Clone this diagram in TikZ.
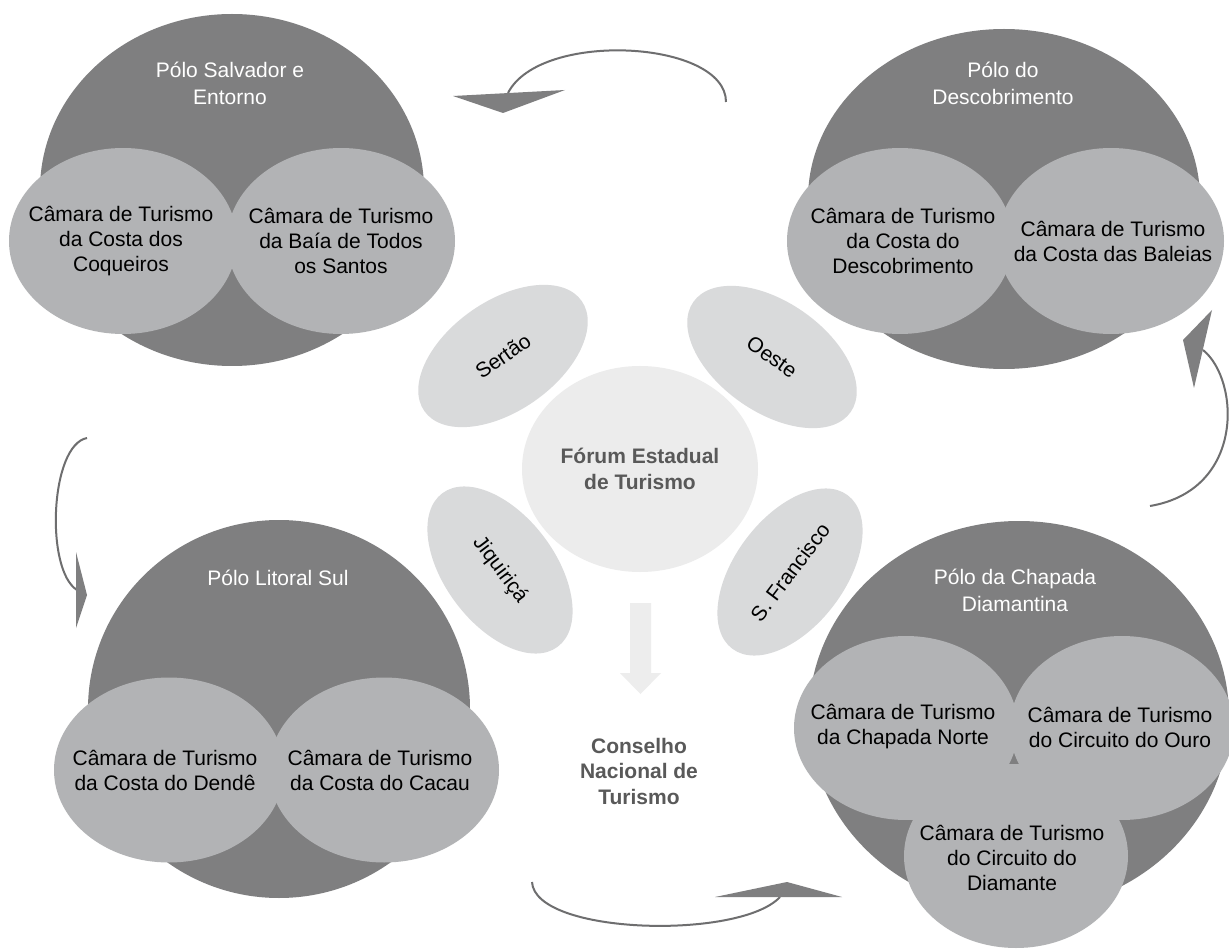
\documentclass[tikz,border=0pt]{standalone}
\usepackage{fontspec}
\setmainfont{Liberation Sans}
\usetikzlibrary{shapes.geometric}
\definecolor{poloc}{HTML}{7F7F80}
\definecolor{camc}{HTML}{B2B3B5}
\definecolor{petalc}{HTML}{D9DADB}
\definecolor{forumc}{HTML}{ECECEC}
\definecolor{downc}{HTML}{EDEDED}
\definecolor{arcc}{HTML}{6E6E6F}
\definecolor{headc}{HTML}{7F7F80}
\definecolor{boldtxt}{HTML}{595959}
\begin{document}
\begin{tikzpicture}[x=1pt,y=-1pt,
  polo/.style={ellipse, fill=poloc, inner sep=0pt},
  cam/.style={ellipse, fill=camc, inner sep=0pt, minimum height=186pt},
  camtxt/.style={align=center, text=black, font=\fontsize{21}{25}\selectfont},
  polotxt/.style={align=center, text=white, font=\fontsize{21}{26.5}\selectfont},
  petal/.style={ellipse, fill=petalc, minimum width=192pt, minimum height=110pt, inner sep=0pt, text=black, font=\fontsize{21}{25}\selectfont},
  boldlbl/.style={align=center, text=boldtxt, font=\bfseries\fontsize{21}{25.5}\selectfont},
  cycarc/.style={draw=arcc, line width=2pt},
  arrhead/.style={fill=headc},
]
\useasboundingbox (0,0) rectangle (1229,949);
\fill[white] (0,0) rectangle (1229,949);
\clip (0,0) rectangle (1229,949);

% large pole circles
\node[polo, minimum width=384pt, minimum height=352pt] (p1) at (232,190) {};
\node[polo, minimum width=392pt, minimum height=340pt] (p2) at (1004,199) {};
\node[polo, minimum width=382pt, minimum height=378pt] (p3) at (279,709) {};
\node[polo, minimum width=420pt, minimum height=390pt] (p4) at (1019,716) {};

% pole titles
\node[polotxt] (t1) at (230,83.5) {Pólo Salvador e\\Entorno};
\node[polotxt] (t2) at (1003,83.5) {Pólo do\\Descobrimento};
\node[polotxt] (t3) at (278,578) {Pólo Litoral Sul};
\node[polotxt] (t4) at (1015,590.5) {Pólo da Chapada\\Diamantina};

% chamber shapes
\node[cam, minimum width=228pt] (c11) at (123,241) {};
\node[cam, minimum width=228pt] (c12) at (341,241) {};
\node[cam, minimum width=226pt] (c21) at (900,241) {};
\node[cam, minimum width=226pt] (c22) at (1111,241) {};
\node[cam, minimum width=230pt, minimum height=185pt] (c31) at (169,770) {};
\node[cam, minimum width=230pt, minimum height=185pt] (c32) at (384,770) {};
\node[cam, minimum width=224pt, minimum height=184pt] (c41) at (906,728) {};
\node[cam, minimum width=224pt, minimum height=184pt] (c42) at (1122,728) {};
\node[cam, minimum width=224pt, minimum height=184pt] (c43) at (1016,856) {};

% chamber texts
\node[camtxt] (c11t) at ([xshift=-2pt]c11.center) {Câmara de Turismo\\da Costa dos\\Coqueiros};
\node[camtxt] (c12t) at (c12.center) {Câmara de Turismo\\da Baía de Todos\\os Santos};
\node[camtxt] (c21t) at ([xshift=3pt]c21.center) {Câmara de Turismo\\da Costa do\\Descobrimento};
\node[camtxt] (c22t) at ([xshift=2pt]c22.center) {Câmara de Turismo\\da Costa das Baleias};
\node[camtxt] (c31t) at ([xshift=-4pt]c31.center) {Câmara de Turismo\\da Costa do Dendê};
\node[camtxt] (c32t) at ([xshift=-4pt]c32.center) {Câmara de Turismo\\da Costa do Cacau};
\node[camtxt] (c41t) at ([xshift=-3pt,yshift=1pt]c41.center) {Câmara de Turismo\\da Chapada Norte};
\node[camtxt] (c42t) at ([xshift=-2pt,yshift=1pt]c42.center) {Câmara de Turismo\\do Circuito do Ouro};
\node[camtxt] (c43t) at ([xshift=-4pt,yshift=-2pt]c43.center) {Câmara de Turismo\\do Circuito do\\Diamante};

% regional petals
\node[petal, rotate=35] (sertao) at (503,356) {Sertão};
\node[petal, rotate=-35] (oeste) at (772,357) {Oeste};
\node[petal, rotate=-53] (jiq) at (500,570) {Jiquiriçá};
\node[petal, rotate=53] (sfr) at (790,572) {S. Francisco};

% forum
\node[ellipse, fill=forumc, minimum width=236pt, minimum height=206pt, inner sep=0pt, boldlbl] (forum) at (640,469) {Fórum Estadual\\de Turismo};

% down arrow
\fill[downc] (630,603) -- (651,603) -- (651,673) -- (661,673) -- (640.5,694) -- (620,673) -- (630,673) -- cycle;

\node[boldlbl] (cons) at (639,771) {Conselho\\Nacional de\\Turismo};

% cycle arcs
\coordinate (a1s) at (726,102); \coordinate (a1e) at (508,93);
\coordinate (a2s) at (1150,506); \coordinate (a2e) at (1203,350);
\coordinate (a3s) at (87,438); \coordinate (a3e) at (77,590);
\coordinate (a4s) at (532,882); \coordinate (a4e) at (780,897);
\draw[cycarc] (a1s) .. controls (726,40) and (540,30) .. (a1e);
\draw[cycarc] (a2s) .. controls (1245,490) and (1240,380) .. (a2e);
\draw[cycarc] (a3s) .. controls (50,445) and (45,570) .. (a3e);
\draw[cycarc] (a4s) .. controls (535,935) and (740,940) .. (a4e);

% arrow heads
\fill[arrhead] (453,96) -- (565,90) -- (503,113) -- cycle;
\fill[arrhead] (1183,340) -- (1212,310) -- (1194,388) -- cycle;
\fill[arrhead] (76,552) -- (87,595) -- (76,628) -- cycle;
\fill[arrhead] (715,897) -- (787,882) -- (842,897) -- cycle;
\end{tikzpicture}
\end{document}
